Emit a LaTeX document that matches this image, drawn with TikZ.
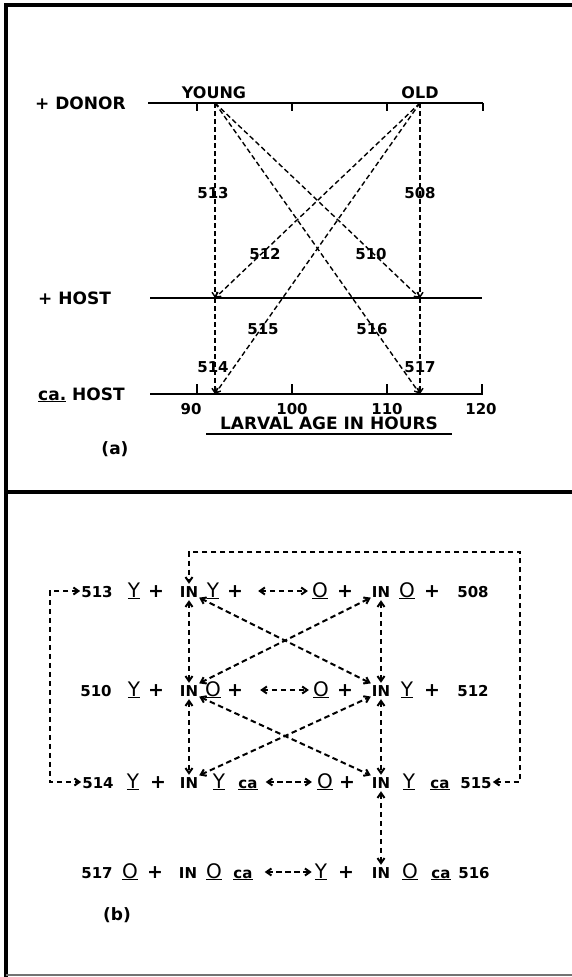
\documentclass[tikz,border=0pt]{standalone}
\usepackage{fontspec}
\setmainfont{DejaVu Sans}
\usetikzlibrary{arrows.meta,positioning}
\tikzset{%
  % Specifications for style of lines and arrows:
   frameline/.style={line width=3.8pt, line cap=rect},
   axis/.style={line width=2.8pt},
   tickmark/.style={line width=1.8pt},
   transfer/.style={
           line width=1.4pt,
           dash pattern=on 5pt off 3pt,
           -{Straight Barb[length=4.5pt,width=6pt]}},
   swap/.style={
           line width=2pt,
           dash pattern=on 5.5pt off 3.5pt,
           {Straight Barb[length=5pt,width=7pt]}-{Straight Barb[length=5pt,width=7pt]},
           shorten <=1pt,
           shorten >=1pt},
  % Specifications for style of nodes:
   base/.style = {inner sep=0pt, text height=12pt, text depth=0pt},
   axlabel/.style = {base, font=\bfseries\fontsize{17}{19}\selectfont},
   agelabel/.style = {base, font=\bfseries\fontsize{16}{18}\selectfont},
   pairno/.style = {base, font=\bfseries\fontsize{15}{17}\selectfont},
   sym/.style = {base, font=\fontsize{20}{22}\selectfont},
   plus/.style = {base, font=\bfseries\fontsize{19}{21}\selectfont},
   inj/.style = {base, font=\bfseries\fontsize{15}{17}\selectfont},
   cav/.style = {base, font=\bfseries\fontsize{15}{17}\selectfont},
}

\begin{document}
\begin{tikzpicture}[x=1pt, y=-1pt]
  \useasboundingbox (0,0) rectangle (572,977);

  % frame of both panels
  \draw[frameline] (572,5) -- (6,5) -- (6,975);
  \draw[frameline] (6,492) -- (572,492);
  \draw[line width=1.2pt, black!55] (6,975) -- (572,975);

  % (a): the three age axes
  \node (donor) [axlabel, anchor=west] at (35,103) {+ DONOR};
  \node (host)  [axlabel, anchor=west] at (38,298) {+ HOST};
  \node (cahost)[axlabel, anchor=west] at (38,394) {\underline{ca.} HOST};
  \draw[axis] (148,103) -- (483,103);
  \draw[axis] (150,298) -- (482,298);
  \draw[axis] (150,394) -- (483,394);
  \foreach \x in {197,292,387,483}
    \draw[tickmark] (\x,103) -- ++(0,8);
  \foreach \x in {197,292,387,482}
    \draw[tickmark] (\x,394) -- ++(0,-10);
  \node (t90)  [pairno] at (191,408) {90};
  \node (t100) [pairno] at (292,408) {100};
  \node (t110) [pairno] at (387,408) {110};
  \node (t120) [pairno] at (481,408) {120};
  \node (hours) [axlabel] at (329,423) {LARVAL AGE IN HOURS};
  \draw[axis, line width=2.2pt] (206,434) -- (452,434);
  \node (panela) [axlabel] at (115,448) {(a)};

  % donor ages and where they land
  \node (young) [agelabel] at (214,92) {YOUNG};
  \node (old)   [agelabel] at (420,92) {OLD};
  \coordinate (dy) at (215,103);
  \coordinate (do) at (420,103);
  \coordinate (hy) at (215,298);
  \coordinate (ho) at (420,298);
  \coordinate (cy) at (215,394);
  \coordinate (co) at (420,394);

  \draw[transfer] (dy) -- (hy);
  \draw[transfer] (hy) -- (cy);
  \draw[transfer] (do) -- (ho);
  \draw[transfer] (ho) -- (co);
  \draw[transfer] (dy) -- (ho);
  \draw[transfer] (dy) -- (co);
  \draw[transfer] (do) -- (hy);
  \draw[transfer] (do) -- (cy);

  \node (a513) [pairno] at (213,192) {513};
  \node (a508) [pairno] at (420,192) {508};
  \node (a512) [pairno] at (265,253) {512};
  \node (a510) [pairno] at (371,253) {510};
  \node (a515) [pairno] at (263,328) {515};
  \node (a516) [pairno] at (372,328) {516};
  \node (a514) [pairno] at (213,366) {514};
  \node (a517) [pairno] at (420,366) {517};

  % (b): the four rows of pairs
  \node (r1n)   [pairno] at (97,591)  {513};
  \node (r1y)   [sym]    at (134,591) {\underline{Y}};
  \node (r1p)   [plus]   at (156,591) {+};
  \node (r1in)  [inj]    at (189,591) {IN};
  \node (r1b)   [sym]    at (213,591) {\underline{Y}};
  \node (r1q)   [plus]   at (235,591) {+};
  \node (r1c)   [sym]    at (320,591) {\underline{O}};
  \node (r1r)   [plus]   at (345,591) {+};
  \node (r1in2) [inj]    at (381,591) {IN};
  \node (r1e)   [sym]    at (407,591) {\underline{O}};
  \node (r1s)   [plus]   at (432,591) {+};
  \node (r1m)   [pairno] at (473,591) {508};

  \node (r2n)   [pairno] at (96,690)  {510};
  \node (r2y)   [sym]    at (134,690) {\underline{Y}};
  \node (r2p)   [plus]   at (156,690) {+};
  \node (r2in)  [inj]    at (189,690) {IN};
  \node (r2b)   [sym]    at (213,690) {\underline{O}};
  \node (r2q)   [plus]   at (235,690) {+};
  \node (r2c)   [sym]    at (321,690) {\underline{O}};
  \node (r2r)   [plus]   at (345,690) {+};
  \node (r2in2) [inj]    at (381,690) {IN};
  \node (r2e)   [sym]    at (407,690) {\underline{Y}};
  \node (r2s)   [plus]   at (432,690) {+};
  \node (r2m)   [pairno] at (473,690) {512};

  \node (r3n)   [pairno] at (98,782)  {514};
  \node (r3y)   [sym]    at (133,782) {\underline{Y}};
  \node (r3p)   [plus]   at (158,782) {+};
  \node (r3in)  [inj]    at (189,782) {IN};
  \node (r3b)   [sym]    at (219,782) {\underline{Y}};
  \node (r3q)   [cav]    at (248,782) {\underline{ca}};
  \node (r3c)   [sym]    at (325,782) {\underline{O}};
  \node (r3r)   [plus]   at (347,782) {+};
  \node (r3in2) [inj]    at (381,782) {IN};
  \node (r3e)   [sym]    at (409,782) {\underline{Y}};
  \node (r3s)   [cav]    at (440,782) {\underline{ca}};
  \node (r3m)   [pairno] at (476,782) {515};

  \node (r4n)   [pairno] at (97,872)  {517};
  \node (r4y)   [sym]    at (130,872) {\underline{O}};
  \node (r4p)   [plus]   at (155,872) {+};
  \node (r4in)  [inj]    at (188,872) {IN};
  \node (r4b)   [sym]    at (214,872) {\underline{O}};
  \node (r4q)   [cav]    at (243,872) {\underline{ca}};
  \node (r4c)   [sym]    at (321,872) {\underline{Y}};
  \node (r4r)   [plus]   at (346,872) {+};
  \node (r4in2) [inj]    at (381,872) {IN};
  \node (r4e)   [sym]    at (410,872) {\underline{O}};
  \node (r4s)   [cav]    at (441,872) {\underline{ca}};
  \node (r4m)   [pairno] at (474,872) {516};

  \node (panelb) [axlabel] at (117,914) {(b)};

  % reciprocal pairs within a row
  \draw[swap, shorten <=15pt, shorten >=4pt] (r1q.east) -- (r1c.west);
  \draw[swap, shorten <=17pt, shorten >=4pt] (r2q.east) -- (r2c.west);
  \draw[swap, shorten <=8pt, shorten >=5pt] (r3q.east) -- (r3c.west);
  \draw[swap, shorten <=12pt, shorten >=3pt] (r4q.east) -- (r4c.west);

  % links between the hosts
  \draw[swap, shorten <=3pt] (r1in.south) -- (r2in.north);
  \draw[swap, shorten <=3pt] (r1in2.south) -- (r2in2.north);
  \draw[swap] (r1in.south east) -- (r2in2.north west);
  \draw[swap] (r2in.north east) -- (r1in2.south west);
  \draw[swap, shorten <=3pt] (r2in.south) -- (r3in.north);
  \draw[swap, shorten <=3pt] (r2in2.south) -- (r3in2.north);
  \draw[swap] (r2in.south east) -- (r3in2.north west);
  \draw[swap] (r3in.north east) -- (r2in2.south west);
  \draw[swap, shorten <=3pt] (r3in2.south) -- (r4in2.north);

  % the two outer loops
  \coordinate (rtop) at (520,552);
  \draw[swap] (r1n.west) -- +(-31,0) |- (r3n.west);
  \draw[swap] (r3m.east) -| (rtop) -| (r1in.north);
\end{tikzpicture}
\end{document}
